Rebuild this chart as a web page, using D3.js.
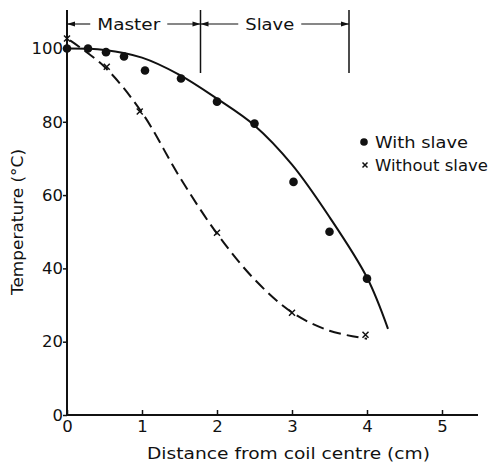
<!DOCTYPE html>
<html>
<head>
<meta charset="utf-8">
<script src="https://cdn.jsdelivr.net/npm/d3@7"></script>
<style>
  body { margin: 0; background: #fff; }
  text { font-family: "DejaVu Sans", sans-serif; fill: #111; }
</style>
</head>
<body>
<script>
// measured points, with slave
const withSlaveX = [0, 0.28, 0.52, 0.76, 1.04, 1.52, 2.0, 2.5, 3.02, 3.5, 4.0];
const withSlaveY = [100, 100, 99, 97.8, 94, 91.8, 85.5, 79.5, 63.6, 50, 37.2];
// measured points, without slave
const withoutSlaveX = [0, 0.53, 0.97, 2.0, 3.0, 3.98];
const withoutSlaveY = [102.7, 95, 82.8, 49.7, 27.9, 21.9];
// fitted curves
const fitSolidX = [0, 0.5, 1, 1.5, 2, 2.5, 3, 3.5, 4, 4.28];
const fitSolidY = [100, 99.6, 97.5, 92.8, 86.3, 79, 68.3, 54, 37.5, 23.5];
const fitDashX = [0.04, 0.5, 1, 1.5, 2, 2.5, 3, 3.5, 4];
const fitDashY = [102.2, 95, 82.5, 65, 49.5, 37, 28, 23, 20.8];
// coil zones along the top
const zoneLabels = ["Master", "Slave"];
const zoneEdges = [0, 1.78, 3.76];
const xTicks = [0, 1, 2, 3, 4, 5];
const yTicks = [0, 20, 40, 60, 80, 100];
const legendLabels = ["With slave", "Without slave"];

const width = 498, height = 462;
const svg = d3.select("body").append("svg")
    .attr("width", width)
    .attr("height", height);

const x = d3.scaleLinear().domain([0, 5.48]).range([67, 478]);
const y = d3.scaleLinear().domain([0, 110.5]).range([415, 10]);

// axes lines
svg.append("line")
    .attr("x1", x(0)).attr("x2", x(5.48))
    .attr("y1", y(0)).attr("y2", y(0))
    .attr("stroke", "#111").attr("stroke-width", 2);
svg.append("line")
    .attr("x1", x(0)).attr("x2", x(0))
    .attr("y1", y(0)).attr("y2", y(110.5))
    .attr("stroke", "#111").attr("stroke-width", 2);

const xAxis = svg.append("g")
    .attr("transform", "translate(0," + y(0) + ")")
    .call(d3.axisBottom(x).tickValues(xTicks).tickFormat(d3.format("d"))
        .tickSizeInner(-5).tickSizeOuter(0).tickPadding(5));
xAxis.select(".domain").remove();
xAxis.selectAll("text").style("font-size", "16.5px").attr("fill", "#111");
xAxis.selectAll("line").attr("stroke", "#111").attr("stroke-width", 1.5);

const yAxis = svg.append("g")
    .attr("transform", "translate(" + x(0) + ",0)")
    .call(d3.axisLeft(y).tickValues(yTicks).tickFormat(d3.format("d"))
        .tickSizeInner(4).tickSizeOuter(0).tickPadding(0));
yAxis.select(".domain").remove();
yAxis.selectAll("text").style("font-size", "16.5px").attr("fill", "#111");
yAxis.selectAll("line").attr("stroke", "#111").attr("stroke-width", 1.5);

// axis titles
svg.append("text")
    .attr("x", 147).attr("y", 459)
    .attr("textLength", 283).attr("lengthAdjust", "spacingAndGlyphs")
    .style("font-size", "16.5px")
    .text("Distance from coil centre (cm)");
svg.append("text")
    .attr("transform", "translate(23,295) rotate(-90)")
    .attr("textLength", 146).attr("lengthAdjust", "spacingAndGlyphs")
    .style("font-size", "16.5px")
    .text("Temperature (\u00b0C)");

// fitted curves
const solid = fitSolidX.map((d, i) => [d, fitSolidY[i]]);
const dashed = fitDashX.map((d, i) => [d, fitDashY[i]]);
const line = d3.line().x(d => x(d[0])).y(d => y(d[1])).curve(d3.curveCatmullRom);

svg.append("path").datum(solid)
    .attr("d", line)
    .attr("fill", "none").attr("stroke", "#111").attr("stroke-width", 2);
svg.append("path").datum(dashed)
    .attr("d", line)
    .attr("fill", "none").attr("stroke", "#111").attr("stroke-width", 2)
    .attr("stroke-dasharray", "12,6");

// points
svg.selectAll(".dot")
    .data(withSlaveX.map((d, i) => [d, withSlaveY[i]]))
    .enter().append("circle")
    .attr("class", "dot")
    .attr("cx", d => x(d[0])).attr("cy", d => y(d[1]))
    .attr("r", 4.3).attr("fill", "#111");

function cross(g, cx, cy, s) {
    g.append("path")
        .attr("d", `M${cx - s},${cy - s}L${cx + s},${cy + s}M${cx - s},${cy + s}L${cx + s},${cy - s}`)
        .attr("stroke", "#111").attr("stroke-width", 1.5).attr("fill", "none");
}
withoutSlaveX.forEach((d, i) => cross(svg, x(d), y(withoutSlaveY[i]), 3));

// legend
svg.append("circle").attr("cx", 364).attr("cy", 142).attr("r", 3.8).attr("fill", "#111");
svg.append("text").attr("x", 375).attr("y", 148)
    .attr("textLength", 93).attr("lengthAdjust", "spacingAndGlyphs")
    .style("font-size", "16.5px").text(legendLabels[0]);
cross(svg, 365, 165, 2.5);
svg.append("text").attr("x", 375).attr("y", 171)
    .attr("textLength", 113).attr("lengthAdjust", "spacingAndGlyphs")
    .style("font-size", "16.5px").text(legendLabels[1]);

// zone markers along the top
const arrowY = 24;
const textW = [63, 49];
function arrowHead(px, dir) {
    svg.append("path")
        .attr("d", `M${px},${arrowY}L${px - dir * 8},${arrowY - 2.5}L${px - dir * 8},${arrowY + 2.5}Z`)
        .attr("fill", "#111");
}
zoneEdges.slice(1).forEach(e => {
    svg.append("line")
        .attr("x1", x(e)).attr("x2", x(e))
        .attr("y1", 10).attr("y2", 73)
        .attr("stroke", "#111").attr("stroke-width", 1.5);
});
zoneLabels.forEach((lab, i) => {
    const x0 = x(zoneEdges[i]), x1 = x(zoneEdges[i + 1]);
    const mid = (x0 + x1) / 2 - 5;
    const w = textW[i];
    svg.append("text")
        .attr("x", mid - w / 2).attr("y", arrowY + 6)
        .attr("textLength", w).attr("lengthAdjust", "spacingAndGlyphs")
        .style("font-size", "16.5px").text(lab);
    svg.append("line")
        .attr("x1", x0).attr("x2", mid - w / 2 - 7)
        .attr("y1", arrowY).attr("y2", arrowY)
        .attr("stroke", "#111").attr("stroke-width", 1.1);
    svg.append("line")
        .attr("x1", mid + w / 2 + 7).attr("x2", x1)
        .attr("y1", arrowY).attr("y2", arrowY)
        .attr("stroke", "#111").attr("stroke-width", 1.1);
    arrowHead(x0, -1);
    arrowHead(x1, 1);
});
</script>
</body>
</html>
